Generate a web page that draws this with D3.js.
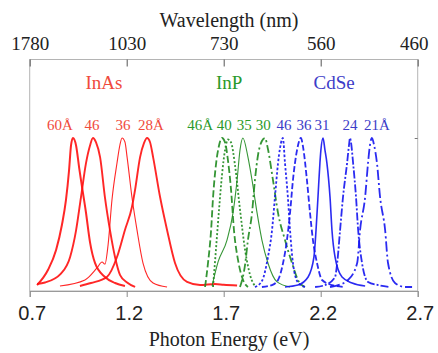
<!DOCTYPE html>
<html><head><meta charset="utf-8">
<script src="https://cdn.jsdelivr.net/npm/d3@7"></script>
<style>
body{margin:0;background:#fff}svg{display:block}
.serif{font-family:"Liberation Serif","Tinos","Times New Roman","DejaVu Serif","Noto Serif",serif;}
.sans{font-family:"Liberation Sans",Arial,Helvetica,sans-serif;}
</style>
</head><body><svg id="c" width="438" height="353"></svg>
<script>
// ---- data ----
const energyTicks = [0.7, 1.2, 1.7, 2.2, 2.7];
const wavelengthLabels = ["1780", "1030", "730", "560", "460"];
const materials = ["InAs", "InP", "CdSe"];
const materialLabelE = [1.083, 1.728, 2.269];

const inasSizes = ["60Å", "46", "36", "28Å"];
const inasLabelE = [0.856, 1.021, 1.181, 1.325];
const inpSizes = ["46Å", "40", "35", "30"];
const inpLabelE = [1.579, 1.703, 1.806, 1.904];
const cdseSizes = ["46", "36", "31", "24", "21Å"];
const cdseLabelE = [2.011, 2.114, 2.207, 2.351, 2.490];

// spectra: [photon energy (eV), normalized PL intensity]
const inas60 = [[0.738,0.013],[0.794,0.114],[0.836,0.248],[0.866,0.416],[0.887,0.584],[0.903,0.785],[0.913,0.95],[0.923,1.0],[0.939,0.95],[0.955,0.80],[0.964,0.72],[0.990,0.50],[1.011,0.30],[1.037,0.16],[1.088,0.067],[1.140,0.027],[1.191,0.007]];
const inas46 = [[0.738,0.02],[0.779,0.03],[0.861,0.09],[0.908,0.20],[0.939,0.38],[0.964,0.60],[0.990,0.83],[1.011,0.95],[1.026,1.0],[1.042,0.97],[1.063,0.87],[1.088,0.60],[1.114,0.38],[1.140,0.20],[1.166,0.08],[1.202,0.03],[1.243,0.0]];
const inas36 = [[0.856,0.007],[0.985,0.047],[1.047,0.128],[1.073,0.168],[1.088,0.154],[1.104,0.282],[1.124,0.584],[1.150,0.832],[1.165,0.953],[1.176,1.0],[1.191,0.973],[1.202,0.872],[1.227,0.604],[1.253,0.383],[1.284,0.161],[1.336,0.027],[1.408,0.0]];
const inas28 = [[0.959,0.007],[1.016,0.027],[1.098,0.067],[1.150,0.201],[1.191,0.383],[1.227,0.537],[1.243,0.651],[1.269,0.872],[1.289,0.966],[1.305,1.0],[1.320,0.973],[1.336,0.872],[1.372,0.604],[1.408,0.383],[1.449,0.161],[1.511,0.034],[1.578,0.013],[1.655,0.02],[1.700,0.015],[1.769,0.01]];

const inp46 = [[1.604,0],[1.619,0.16],[1.635,0.38],[1.645,0.60],[1.660,0.82],[1.676,0.95],[1.691,1.0],[1.707,0.97],[1.722,0.85],[1.738,0.65],[1.753,0.38],[1.774,0.18],[1.799,0.05],[1.825,0]];
const inp40 = [[1.645,0],[1.660,0.25],[1.676,0.52],[1.691,0.75],[1.707,0.92],[1.722,0.99],[1.738,0.97],[1.758,0.82],[1.784,0.52],[1.810,0.25],[1.836,0.08],[1.866,0]];
const inp35 = [[1.640,0.007],[1.671,0.168],[1.717,0.315],[1.748,0.497],[1.769,0.718],[1.784,0.919],[1.799,1.0],[1.825,0.872],[1.846,0.718],[1.872,0.497],[1.897,0.315],[1.928,0.161],[1.975,0.034],[2.042,0]];
const inp30 = [[1.784,0],[1.810,0.148],[1.825,0.315],[1.846,0.497],[1.861,0.718],[1.877,0.886],[1.897,0.980],[1.913,1.0],[1.928,0.926],[1.954,0.718],[1.980,0.497],[2.016,0.315],[2.052,0.161],[2.083,0.047],[2.119,0]];

const cdse46 = [[1.861,0],[1.897,0.04],[1.928,0.20],[1.949,0.38],[1.964,0.60],[1.980,0.83],[1.990,0.93],[2.000,0.99],[2.005,1.0],[2.016,0.83],[2.031,0.60],[2.042,0.38],[2.057,0.16],[2.083,0.03],[2.119,0]];
const cdse36 = [[1.897,0],[1.949,0.013],[1.980,0.047],[2.006,0.161],[2.026,0.315],[2.042,0.497],[2.057,0.718],[2.078,0.919],[2.098,1.0],[2.109,0.94],[2.129,0.718],[2.145,0.497],[2.160,0.315],[2.181,0.161],[2.207,0.047],[2.258,0.013],[2.325,0]];
const cdse31 = [[2.016,0],[2.083,0.013],[2.135,0.067],[2.165,0.20],[2.176,0.383],[2.186,0.604],[2.196,0.832],[2.201,0.919],[2.212,1.0],[2.222,0.919],[2.232,0.832],[2.248,0.604],[2.258,0.383],[2.274,0.201],[2.310,0.067],[2.362,0.027],[2.429,0.007]];
const cdse24 = [[2.171,0],[2.222,0.013],[2.274,0.067],[2.285,0.161],[2.300,0.383],[2.315,0.604],[2.336,0.832],[2.346,0.953],[2.351,1.0],[2.356,0.973],[2.367,0.832],[2.382,0.604],[2.393,0.383],[2.413,0.161],[2.444,0.034],[2.496,0.013],[2.557,0]];
const cdse21 = [[2.248,0],[2.290,0.013],[2.341,0.047],[2.388,0.161],[2.403,0.383],[2.429,0.604],[2.444,0.832],[2.454,0.953],[2.464,1.0],[2.475,0.953],[2.490,0.832],[2.506,0.604],[2.532,0.383],[2.547,0.161],[2.583,0.027],[2.635,0],[2.671,0]];

// ---- styling (kept separate from data) ----
const curveColor = {InAs: "#ff1010", InP: "#1f8a1f", CdSe: "#1414f0"};
const labelColor = {InAs: "#f04a3c", InP: "#2a9a2a", CdSe: "#3c3cc8"};
const spectra = [
  {m: "InAs", d: inas60, dash: null, w: 2.0},
  {m: "InAs", d: inas46, dash: null, w: 1.9},
  {m: "InAs", d: inas36, dash: null, w: 1.1},
  {m: "InAs", d: inas28, dash: null, w: 1.9},
  {m: "InP", d: inp46, dash: "7,3", w: 1.8},
  {m: "InP", d: inp40, dash: "2,2", w: 1.8},
  {m: "InP", d: inp35, dash: null, w: 1.1},
  {m: "InP", d: inp30, dash: "8,3,2,3", w: 1.8},
  {m: "CdSe", d: cdse46, dash: "2.5,2", w: 1.8},
  {m: "CdSe", d: cdse36, dash: "6,2.5", w: 1.8},
  {m: "CdSe", d: cdse31, dash: null, w: 1.6},
  {m: "CdSe", d: cdse24, dash: "8,2,2,2", w: 1.8},
  {m: "CdSe", d: cdse21, dash: "10,3,2,3", w: 1.8}
];

const svg = d3.select("#c");
const L = 29.7, R = 417.7, T = 59.5, B = 291;
const x = d3.scaleLinear().domain([0.7, 2.7]).range([L, R]);
const y = d3.scaleLinear().domain([0, 1]).range([287, 138]);

// frame
svg.append("rect").attr("x", L).attr("y", T).attr("width", R - L).attr("height", B - T)
  .attr("fill", "none").attr("stroke", "#b4b4b4").attr("stroke-width", 1);

// curves
const line = d3.line().x(d => x(d[0])).y(d => y(d[1])).curve(d3.curveMonotoneX);
svg.append("g").selectAll("path").data(spectra).join("path")
  .attr("d", s => line(s.d))
  .attr("fill", "none")
  .attr("stroke", s => curveColor[s.m])
  .attr("stroke-width", s => s.w)
  .attr("stroke-opacity", 0.9)
  .attr("stroke-linejoin", "round")
  .attr("stroke-dasharray", s => s.dash);

// bottom axis
const gb = svg.append("g").attr("transform", `translate(0,${B})`)
  .call(d3.axisBottom(x).tickValues(energyTicks).tickSize(6).tickPadding(9).tickFormat(d3.format(".1f")));
gb.attr("font-family", null).attr("font-size", null);
gb.select(".domain").attr("stroke", "#9a9a9a");
gb.selectAll(".tick line").attr("stroke", "#8a8a8a");
gb.selectAll("text").attr("class", "sans").style("font-size", "20px").attr("fill", "#222").attr("dx", 2);

// top axis (wavelength labels at same positions)
const gt = svg.append("g").attr("transform", `translate(0,${T})`)
  .call(d3.axisTop(x).tickValues(energyTicks).tickSizeInner(-7).tickSizeOuter(0).tickPadding(9.5)
    .tickFormat((d, i) => wavelengthLabels[i]));
gt.attr("font-family", null).attr("font-size", null);
gt.select(".domain").remove();
gt.selectAll(".tick line").attr("stroke", "#555");
gt.selectAll("text").attr("class", "serif").style("font-size", "19px").attr("fill", "#222")
  .attr("dx", (d, i) => i === energyTicks.length - 1 ? -4 : 0);

// right axis small tick
const yr = svg.append("g").attr("transform", `translate(${R},0)`)
  .call(d3.axisRight(y).tickValues([1]).tickSize(-3).tickFormat(""));
yr.select(".domain").remove();
yr.selectAll(".tick line").attr("stroke", "#777");

// titles
svg.append("text").attr("class", "serif").attr("x", 229).attr("y", 27).attr("text-anchor", "middle")
  .style("font-size", "20px").attr("fill", "#222").text("Wavelength (nm)");
svg.append("text").attr("class", "serif").attr("x", 229).attr("y", 346).attr("text-anchor", "middle")
  .style("font-size", "20px").attr("fill", "#222").text("Photon Energy (eV)");

// material labels
svg.append("g").selectAll("text").data(materials).join("text")
  .attr("class", "serif")
  .attr("x", (d, i) => x(materialLabelE[i])).attr("y", 89).attr("text-anchor", "middle")
  .style("font-size", "19px")
  .attr("fill", d => labelColor[d]).text(d => d);

// size labels
const sizeGroups = [
  {m: "InAs", t: inasSizes, e: inasLabelE},
  {m: "InP", t: inpSizes, e: inpLabelE},
  {m: "CdSe", t: cdseSizes, e: cdseLabelE}
];
sizeGroups.forEach(g => {
  svg.append("g").selectAll("text").data(g.t).join("text")
    .attr("class", "serif")
    .attr("x", (d, i) => x(g.e[i])).attr("y", 130).attr("text-anchor", "middle")
    .style("font-size", "15px")
    .attr("fill", labelColor[g.m]).text(d => d);
});
</script>
</body></html>
